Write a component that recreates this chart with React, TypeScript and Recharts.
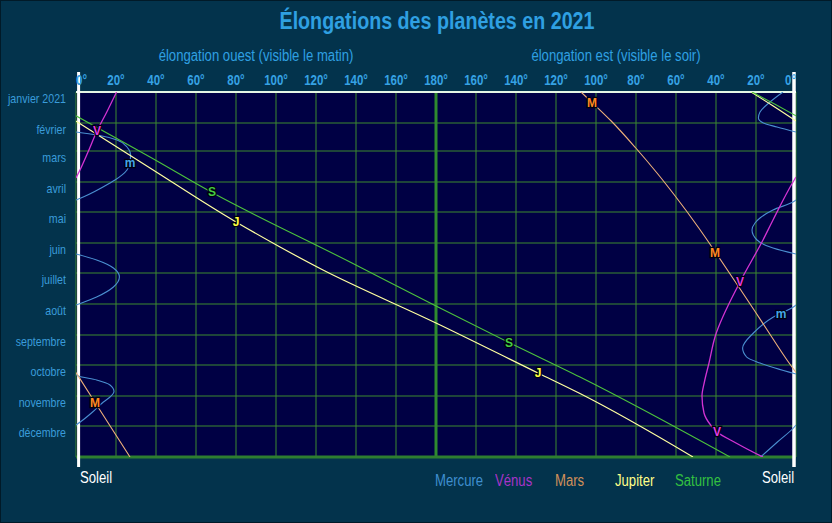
import React from 'react';
import { ComposedChart, Scatter, XAxis, YAxis, CartesianGrid, ReferenceLine } from 'recharts';

const FONT = '"Liberation Sans", Arial, sans-serif';
const SX = 0.82; // condensed look of the original lettering

// x axis: 0..180 = western elongation, 180..360 = eastern elongation (360 - e)
const xTicks = [0, 20, 40, 60, 80, 100, 120, 140, 160, 180, 200, 220, 240, 260, 280, 300, 320, 340, 360];
const monthStarts = [0, 31, 59, 90, 120, 151, 181, 212, 243, 273, 304, 334];
const monthLabels = ['janvier 2021', 'février', 'mars', 'avril', 'mai', 'juin', 'juillet', 'août', 'septembre', 'octobre', 'novembre', 'décembre'];

// Mercure
const mercuryE1 = [{ day: 0, x: 353.5 }, { day: 10, x: 347 }, { day: 20, x: 342 }, { day: 26, x: 341.2 }, { day: 31, x: 343.7 }, { day: 35, x: 350.5 }, { day: 40, x: 360 }];
const mercuryW1 = [{ day: 40, x: 0 }, { day: 43, x: 10.5 }, { day: 48, x: 20.5 }, { day: 55, x: 25.5 }, { day: 63, x: 27.3 }, { day: 71, x: 26.8 }, { day: 78, x: 25.5 }, { day: 88, x: 19.5 }, { day: 91, x: 17 }, { day: 105, x: 3.6 }, { day: 108, x: 0 }];
const mercuryE2 = [{ day: 108, x: 360 }, { day: 110, x: 358.5 }, { day: 118, x: 348.5 }, { day: 126, x: 342 }, { day: 131, x: 339.5 }, { day: 138, x: 338 }, { day: 148, x: 340.5 }, { day: 156, x: 348.5 }, { day: 162, x: 360 }];
const mercuryW2 = [{ day: 162, x: 0 }, { day: 168, x: 10.3 }, { day: 176, x: 18.7 }, { day: 185, x: 21.7 }, { day: 195, x: 18.7 }, { day: 205, x: 10.3 }, { day: 211, x: 2.8 }, { day: 213, x: 0 }];
const mercuryE3 = [{ day: 213, x: 360 }, { day: 215, x: 358.7 }, { day: 225, x: 348.7 }, { day: 241, x: 338.7 }, { day: 256, x: 333.3 }, { day: 265, x: 335.3 }, { day: 271, x: 342 }, { day: 276, x: 349.5 }, { day: 282, x: 360 }];
const mercuryW3 = [{ day: 282, x: 0 }, { day: 284, x: 1.2 }, { day: 288, x: 10.3 }, { day: 293, x: 17 }, { day: 299.5, x: 19 }, { day: 305, x: 17 }, { day: 310, x: 13.7 }, { day: 320, x: 8.3 }, { day: 329, x: 2.8 }, { day: 333, x: 0 }];
const mercuryE4 = [{ day: 333, x: 360 }, { day: 336, x: 358.7 }, { day: 350, x: 350.7 }, { day: 365, x: 342.3 }];

// Vénus
const venusW = [{ day: 0, x: 20.3 }, { day: 20, x: 15.4 }, { day: 39, x: 10.5 }, { day: 60, x: 6 }, { day: 80, x: 1.5 }, { day: 86, x: 0 }];
const venusE = [{ day: 85, x: 360 }, { day: 90, x: 358.5 }, { day: 128, x: 348.5 }, { day: 148, x: 343.5 }, { day: 190, x: 332 }, { day: 245, x: 319.5 }, { day: 271, x: 316.5 }, { day: 290, x: 314.2 }, { day: 304, x: 313 }, { day: 321, x: 314 }, { day: 333, x: 317.3 }, { day: 340, x: 320.5 }, { day: 351, x: 330 }, { day: 358, x: 336.5 }, { day: 365, x: 343.5 }];

// Mars
const marsE = [{ day: 0, x: 252.5 }, { day: 11, x: 258.3 }, { day: 29, x: 267.6 }, { day: 56, x: 279.9 }, { day: 81, x: 290.5 }, { day: 103, x: 299.2 }, { day: 136, x: 311.4 }, { day: 161, x: 320 }, { day: 195, x: 331.4 }, { day: 220, x: 339.7 }, { day: 238, x: 345.6 }, { day: 268, x: 355.5 }, { day: 280.5, x: 360 }];
const marsW = [{ day: 280.5, x: 0 }, { day: 311, x: 9.7 }, { day: 365, x: 27 }];

// Jupiter
const jupiterE = [{ day: 0, x: 337.5 }, { day: 14, x: 348.6 }, { day: 29, x: 360 }];
const jupiterW = [{ day: 29, x: 0 }, { day: 76, x: 37 }, { day: 130, x: 80 }, { day: 155, x: 102 }, { day: 178, x: 123.5 }, { day: 231, x: 180 }, { day: 281, x: 231 }, { day: 301, x: 251.5 }, { day: 365, x: 308.5 }];

// Saturne
const saturnE = [{ day: 0, x: 338 }, { day: 12, x: 349.3 }, { day: 23.8, x: 360 }];
const saturnW = [{ day: 23.8, x: 0 }, { day: 65, x: 37 }, { day: 101, x: 68.5 }, { day: 170, x: 137 }, { day: 214, x: 180 }, { day: 251, x: 217 }, { day: 285, x: 252 }, { day: 365, x: 327 }];

// letter marks along the curves
const mercuryMarks = [{ day: 71, x: 27 }, { day: 222, x: 352.5 }];
const venusMarks = [{ day: 39, x: 10.5 }, { day: 190, x: 332 }, { day: 340, x: 320.5 }];
const marsMarks = [{ day: 11, x: 258 }, { day: 161, x: 319.5 }, { day: 311, x: 9.5 }];
const jupiterMarks = [{ day: 130, x: 80 }, { day: 281, x: 231 }];
const saturnMarks = [{ day: 100, x: 68 }, { day: 251, x: 216.5 }];

const planetNames = ['Mercure', 'Vénus', 'Mars', 'Jupiter', 'Saturne'];

const planets = [
  { name: 'Mercure', letter: 'm', line: '#4a8fd0', mark: '#45a6e8', legend: '#3f8fcf', width: 1.1, segments: [mercuryE1, mercuryW1, mercuryE2, mercuryW2, mercuryE3, mercuryW3, mercuryE4], marks: mercuryMarks },
  { name: 'Vénus', letter: 'V', line: '#d333d3', mark: '#e43ae4', legend: '#a833c8', width: 1.3, segments: [venusW, venusE], marks: venusMarks },
  { name: 'Mars', letter: 'M', line: '#eeb07a', mark: '#ff8a22', legend: '#d0905a', width: 1.1, segments: [marsE, marsW], marks: marsMarks },
  { name: 'Jupiter', letter: 'J', line: '#ffffa0', mark: '#ffff40', legend: '#ffff88', width: 1.2, segments: [jupiterE, jupiterW], marks: jupiterMarks },
  { name: 'Saturne', letter: 'S', line: '#4cc23c', mark: '#44cc44', legend: '#33c040', width: 1.1, segments: [saturnE, saturnW], marks: saturnMarks },
];

const BLUE = '#2fa0e2';
const TICK_BLUE = '#36a2e4';
const MONTH_BLUE = '#3a9cda';

const XTick = (props: any) => {
  const { x, y, payload } = props;
  const v = payload.value as number;
  const label = (v <= 180 ? v : 360 - v) + '°';
  const anchor = v === 0 ? 'start' : v === 360 ? 'end' : 'middle';
  return (
    <text transform={`translate(${x},${y}) scale(${SX},1)`} x={0} y={0} textAnchor={anchor} fill={TICK_BLUE}
      fontWeight="bold" fontSize={14} fontFamily={FONT}>
      {label}
    </text>
  );
};

const YTick = (props: any) => {
  const { x, y, payload } = props;
  const i = monthStarts.indexOf(payload.value);
  return (
    <text transform={`translate(${x},${y + 6}) scale(${SX},1)`} x={0} y={0} dy="0.35em" textAnchor="end"
      fill={MONTH_BLUE} fontSize={13} fontFamily={FONT}>
      {monthLabels[i]}
    </text>
  );
};

const Empty = () => <g />;

const makeMark = (color: string, letter: string) => (props: any) => {
  const { cx, cy } = props;
  return (
    <text x={cx} y={cy} dy="0.36em" textAnchor="middle" fill={color} stroke="#000010" strokeWidth={2.5}
      paintOrder="stroke" fontWeight="bold" fontSize={12} fontFamily={FONT}>
      {letter}
    </text>
  );
};

const abs = (extra: React.CSSProperties): React.CSSProperties => ({ position: 'absolute', whiteSpace: 'nowrap', fontFamily: FONT, lineHeight: 1, ...extra });

export default function App() {
  return (
    <div style={{ position: 'absolute', left: 0, top: 0, width: 832, height: 523, background: '#03334c', boxShadow: 'inset 0 0 0 1px #011a28', overflow: 'hidden' }}>
      <ComposedChart width={832} height={523} margin={{ top: 0, right: 36, bottom: 66, left: 0 }}>
        <CartesianGrid stroke="#3c8a2e" strokeWidth={1} fill="#000044" fillOpacity={1} />
        <XAxis type="number" dataKey="x" orientation="top" domain={[0, 360]} ticks={xTicks} height={92}
          axisLine={false} tickLine={false} tickSize={0} tickMargin={7} tick={<XTick />} interval={0} allowDataOverflow />
        <YAxis type="number" dataKey="day" domain={[0, 365]} reversed ticks={monthStarts} width={76}
          axisLine={false} tickLine={false} tickSize={0} tickMargin={10} tick={<YTick />} interval={0} allowDataOverflow />
        <ReferenceLine x={180} stroke="#2f8a2f" strokeWidth={3} />
        {planets.map((p) =>
          p.segments.map((seg, i) => (
            <Scatter key={p.name + i} data={seg} line={{ stroke: p.line, strokeWidth: p.width }} lineJointType="monotoneY"
              shape={<Empty />} isAnimationActive={false} fill={p.line} />
          ))
        )}
        <ReferenceLine y={365} stroke="#2e7e30" strokeWidth={3} />
        <ReferenceLine y={0} stroke="#e4f6e4" strokeWidth={2} />
        <ReferenceLine segment={[{ x: 1.3, y: -20 }, { x: 1.3, y: 375 }]} stroke="#ffffff" strokeWidth={3} ifOverflow="visible" />
        <ReferenceLine segment={[{ x: 359, y: -20 }, { x: 359, y: 375 }]} stroke="#ffffff" strokeWidth={3.5} ifOverflow="visible" />
        {planets.map((p) => (
          <Scatter key={p.name + 'marks'} data={p.marks} shape={makeMark(p.mark, p.letter)} isAnimationActive={false} fill={p.mark} />
        ))}
      </ComposedChart>

      <div style={abs({ left: 437, top: 21, transform: `translate(-50%, -50%) scaleX(${SX})`, fontSize: 24, fontWeight: 'bold', color: BLUE })}>
        Élongations des planètes en 2021
      </div>
      <div style={abs({ left: 256, top: 56, transform: `translate(-50%, -50%) scaleX(${SX})`, fontSize: 16, color: BLUE })}>
        élongation ouest (visible le matin)
      </div>
      <div style={abs({ left: 616, top: 56, transform: `translate(-50%, -50%) scaleX(${SX})`, fontSize: 16, color: BLUE })}>
        élongation est (visible le soir)
      </div>
      <div style={abs({ left: 80, top: 478, transform: `translateY(-50%) scaleX(${SX})`, transformOrigin: 'left center', fontSize: 16, color: '#ffffff' })}>Soleil</div>
      <div style={abs({ right: 832 - 794, top: 478, transform: `translateY(-50%) scaleX(${SX})`, transformOrigin: 'right center', fontSize: 16, color: '#ffffff' })}>Soleil</div>
      <div style={abs({ left: 435, top: 481, transform: 'translateY(-50%)', display: 'flex' })}>
        {planets.map((p, i) => (
          <span key={p.name} style={{ width: 60, display: 'inline-block' }}>
            <span style={{ display: 'inline-block', fontSize: 16, color: p.legend, transform: `scaleX(${SX})`, transformOrigin: 'left center' }}>{planetNames[i]}</span>
          </span>
        ))}
      </div>
    </div>
  );
}
